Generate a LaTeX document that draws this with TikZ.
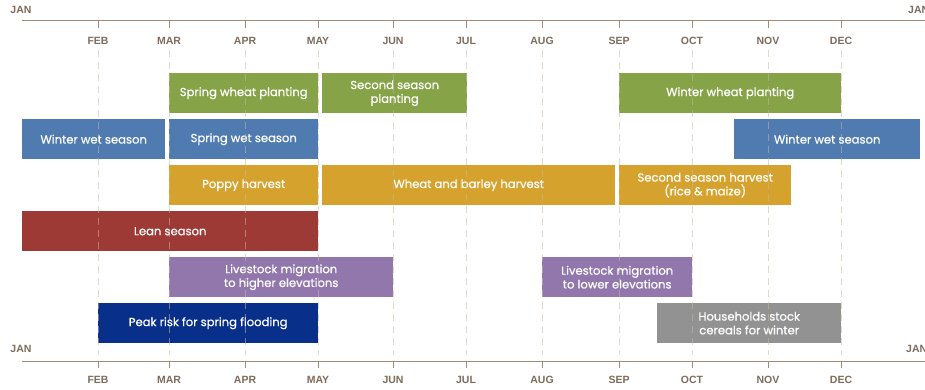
\documentclass[tikz,border=0pt]{standalone}
\usepackage{fontspec}
\setmainfont{Poppins}
\newfontfamily\barfont{Poppins}[FakeBold=0.6]
\newfontfamily\monthfont{Liberation Sans}
\definecolor{cgreen}{HTML}{86A447}
\definecolor{cblue}{HTML}{4F7BB0}
\definecolor{cgold}{HTML}{D6A22E}
\definecolor{cred}{HTML}{9E3A36}
\definecolor{cpurple}{HTML}{9277AC}
\definecolor{cnavy}{HTML}{08308A}
\definecolor{cgray}{HTML}{929292}
\definecolor{axiscol}{HTML}{A08C78}
\definecolor{labcol}{HTML}{7D6B5B}
\definecolor{dashcol}{HTML}{C9B8A6}
\begin{document}
\begin{tikzpicture}[x=1pt,y=-1pt,
  bar/.style={anchor=north west,inner sep=0pt,minimum height=40pt,text=white,
    font=\barfont\fontsize{11.6}{13.8}\selectfont,align=center},
  monthlab/.style={font=\monthfont\bfseries\fontsize{10.5}{12}\selectfont,text=labcol,inner sep=0pt},
  axisline/.style={draw=axiscol,line width=1pt},
  gridline/.style={draw=dashcol,line width=0.9pt,dash pattern=on 7pt off 5pt}]
\useasboundingbox (0,0) rectangle (925,390);
% axes
\coordinate (tl) at (22,21); \coordinate (tr) at (925,21);
\coordinate (bl) at (22,361); \coordinate (br) at (925,361);
\draw[axisline] (tl) -- (tr);
\draw[axisline] (bl) -- (br);
\node[monthlab] (janTL) at (21,10) {JAN};
\node[monthlab,anchor=west] (janTR) at (908,10) {JAN};
\node[monthlab] (janBL) at (21,349) {JAN};
\node[monthlab,anchor=west] (janBR) at (906,349) {JAN};
% bars
\node[bar,fill=cgreen,minimum width=149pt] (swp) at (169,73) {Spring wheat planting};
\node[bar,fill=cgreen,minimum width=145pt] (ssp) at (322,73) {Second season\\planting};
\node[bar,fill=cgreen,minimum width=222pt] (wwp) at (619,73) {Winter wheat planting};
\node[bar,fill=cblue,minimum width=143pt] (wws1) at (22,119) {Winter wet season};
\node[bar,fill=cblue,minimum width=149pt] (sws) at (169,119) {Spring wet season};
\node[bar,fill=cblue,minimum width=186pt] (wws2) at (734,119) {Winter wet season};
\node[bar,fill=cgold,minimum width=149pt] (ph) at (169,165) {Poppy harvest};
\node[bar,fill=cgold,minimum width=293pt] (wbh) at (322,165) {Wheat and barley harvest};
\node[bar,fill=cgold,minimum width=172pt] (ssh) at (619,165) {Second season harvest\\(rice \& maize)};
\node[bar,fill=cred,minimum width=296pt] (ls) at (22,211) {Lean season};
\node[bar,fill=cpurple,minimum width=224pt] (lmh) at (169,257) {Livestock migration\\to higher elevations};
\node[bar,fill=cpurple,minimum width=150pt] (lml) at (542,257) {Livestock migration\\to lower elevations};
\node[bar,fill=cnavy,minimum width=220pt] (prf) at (98,303) {Peak risk for spring flooding};
\node[bar,fill=cgray,minimum width=184pt] (hsc) at (657,303) {Households stock\\cereals for winter};
% months
\foreach \m/\x in {FEB/98,MAR/169,APR/245,MAY/318,JUN/393,JUL/466,AUG/542,SEP/619,OCT/692,NOV/768,DEC/841}{
  \coordinate (t\m) at (\x,21);
  \coordinate (b\m) at (\x,361);
  \draw[axisline] (t\m) -- ++(0,7);
  \draw[axisline] (b\m) -- ++(0,7);
  \node[monthlab] (lt\m) at (\x,41) {\m};
  \node[monthlab] (lb\m) at (\x,380) {\m};
  \draw[gridline,opacity=0.55] (\x,50) -- (\x,355);
}
\end{tikzpicture}
\end{document}
